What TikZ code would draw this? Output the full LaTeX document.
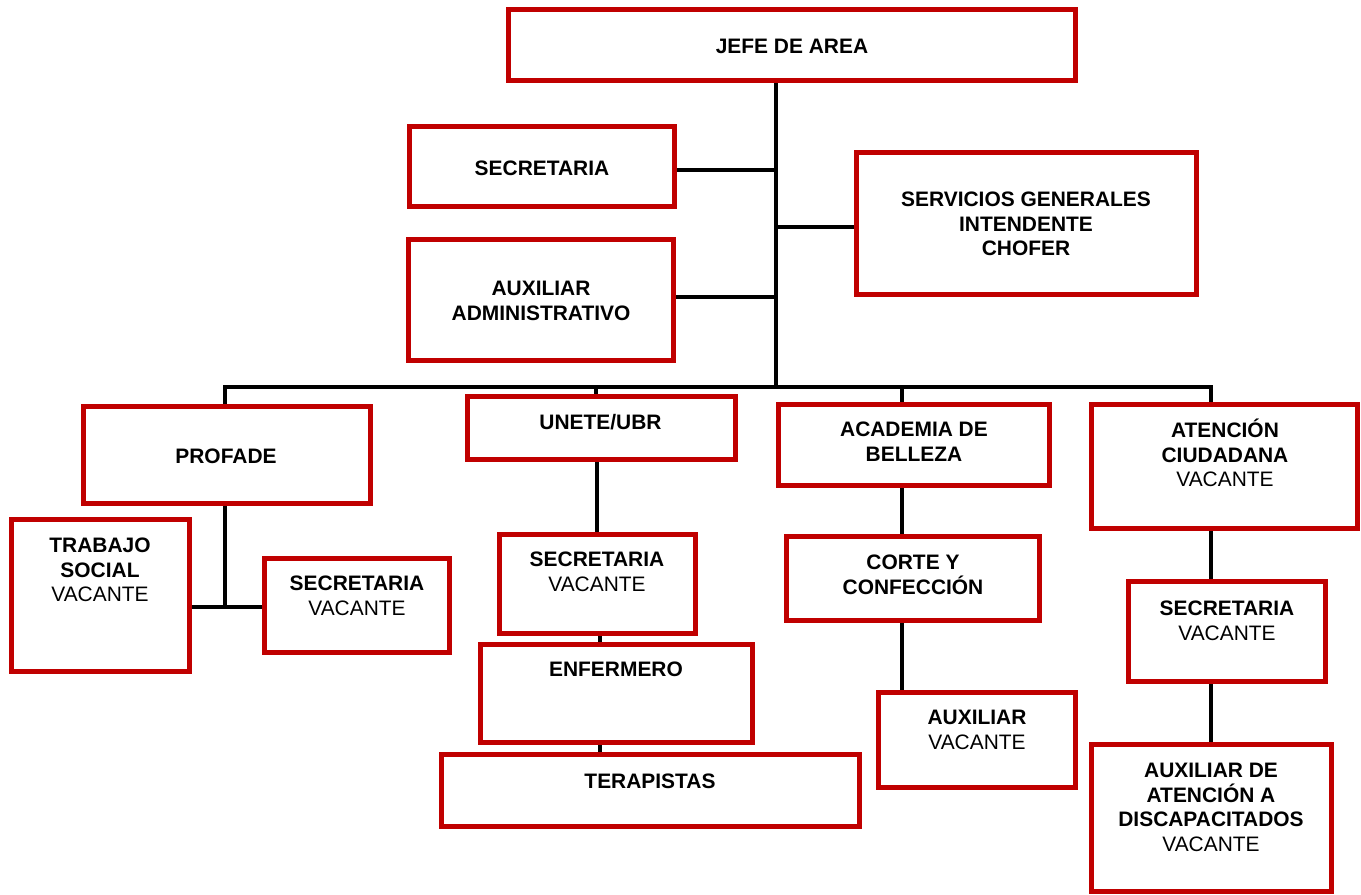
\documentclass[tikz,border=0pt]{standalone}
\usepackage{fontspec}
\setmainfont{Liberation Sans}
\usetikzlibrary{backgrounds}
\definecolor{boxred}{HTML}{C00000}
\newcommand\fl{\rule{0pt}{15pt}}
\newcommand\vac{\mdseries VACANTE}
\tikzset{
  box/.style 2 args={draw=boxred, line width=3.75pt, minimum width=#1*0.75pt, minimum height=#2*0.75pt, inner sep=0pt, anchor=center},
  lab/.style={anchor=north, inner sep=0pt, align=center, font=\fontsize{15.7}{18.6}\selectfont\bfseries},
  conn/.style={draw=black, line width=3pt, line join=miter}
}
\begin{document}
\begin{tikzpicture}[x=0.75pt,y=-0.75pt]
\useasboundingbox (0,0) rectangle (1361,895);
% boxes
\node[box={566.5}{71}] (jefe) at (791.75,45.5) {};
\node[box={265}{80.5}] (sec) at (541.5,166.75) {};
\node[box={265.5}{120.5}] (aux) at (540.75,299.75) {};
\node[box={340}{141.5}] (serv) at (1026.5,223.25) {};
\node[box={286.5}{97}] (profade) at (226.75,455) {};
\node[box={178}{152.5}] (trabajo) at (100,595.25) {};
\node[box={185}{94.5}] (psec) at (356.5,605.25) {};
\node[box={268}{63.5}] (unete) at (601,427.75) {};
\node[box={196}{99.5}] (usec) at (597,583.75) {};
\node[box={272.5}{98.5}] (enf) at (616.25,693.25) {};
\node[box={418}{72.5}] (ter) at (650,790.25) {};
\node[box={271}{81}] (acad) at (914,444.5) {};
\node[box={253}{84}] (corte) at (913,578) {};
\node[box={196.5}{95}] (aaux) at (976.75,739.5) {};
\node[box={266.5}{124.5}] (aten) at (1224.25,466.25) {};
\node[box={196.3}{99.5}] (asec) at (1226.85,631.25) {};
\node[box={240.5}{147.5}] (adis) at (1211.25,817.75) {};
% labels
\node[lab] (tjefe) at (792,33) {\fl JEFE DE AREA};
\node[lab] (tsec) at (542,155) {\fl SECRETARIA};
\node[lab] (taux) at (541,275) {\fl AUXILIAR\\ADMINISTRATIVO};
\node[lab] (tserv) at (1026,186) {\fl SERVICIOS GENERALES\\INTENDENTE\\CHOFER};
\node[lab] (tprofade) at (226,443) {\fl PROFADE};
\node[lab] (ttrabajo) at (100,532) {\fl TRABAJO\\SOCIAL\\\vac};
\node[lab] (tpsec) at (357,570) {\fl SECRETARIA\\\vac};
\node[lab] (tunete) at (600.5,409) {\fl UNETE/UBR};
\node[lab] (tusec) at (597,546) {\fl SECRETARIA\\\vac};
\node[lab] (tenf) at (616,656) {\fl ENFERMERO};
\node[lab] (tter) at (650,768) {\fl TERAPISTAS};
\node[lab] (tacad) at (914,416) {\fl ACADEMIA DE\\BELLEZA};
\node[lab] (tcorte) at (913,549) {\fl CORTE Y\\CONFECCIÓN};
\node[lab] (taaux) at (977,704) {\fl AUXILIAR\\\vac};
\node[lab] (taten) at (1225,417) {\fl ATENCIÓN\\CIUDADANA\\\vac};
\node[lab] (tasec) at (1227,595) {\fl SECRETARIA\\\vac};
\node[lab] (tadis) at (1211,757) {\fl AUXILIAR DE\\ATENCIÓN A\\DISCAPACITADOS\\\vac};
% junction coordinates
\coordinate (tBot) at (776,387);
\coordinate (jSec) at (776,170);
\coordinate (jAux) at (776,297);
\coordinate (jServ) at (776,227);
\coordinate (busL) at (225,387);
\coordinate (busR) at (1211,387);
\coordinate (bU) at (596,387);
\coordinate (bA) at (902,387);
\coordinate (pJ) at (225,607);
\begin{scope}[on background layer]
\draw[conn] (jefe.south -| tBot) -- (tBot);
\draw[conn] (jSec -| sec.east) -- (jSec);
\draw[conn] (jAux -| aux.east) -- (jAux);
\draw[conn] (jServ) -- (jServ -| serv.west);
\draw[conn] (busL |- profade.north) -- (busL) -- (busR) -- (busR |- aten.north);
\draw[conn] (bU) -- (bU |- unete.north);
\draw[conn] (bA) -- (bA |- acad.north);
\draw[conn] (profade.south -| pJ) -- (pJ);
\draw[conn] (pJ -| trabajo.east) -- (pJ -| psec.west);
\draw[conn] (usec.north |- unete.south) -- (usec.north);
\draw[conn] ([xshift=2]usec.south) -- ([xshift=2]usec.south |- enf.north);
\draw[conn] ([xshift=2]usec.south |- enf.south) -- ([xshift=2]usec.south |- ter.north);
\draw[conn] (acad.south -| bA) -- (corte.north -| bA);
\draw[conn] (corte.south -| bA) -- (aaux.north -| bA);
\draw[conn] (aten.south -| busR) -- (asec.north -| busR);
\draw[conn] (asec.south -| busR) -- (adis.north -| busR);
\end{scope}
\end{tikzpicture}
\end{document}
